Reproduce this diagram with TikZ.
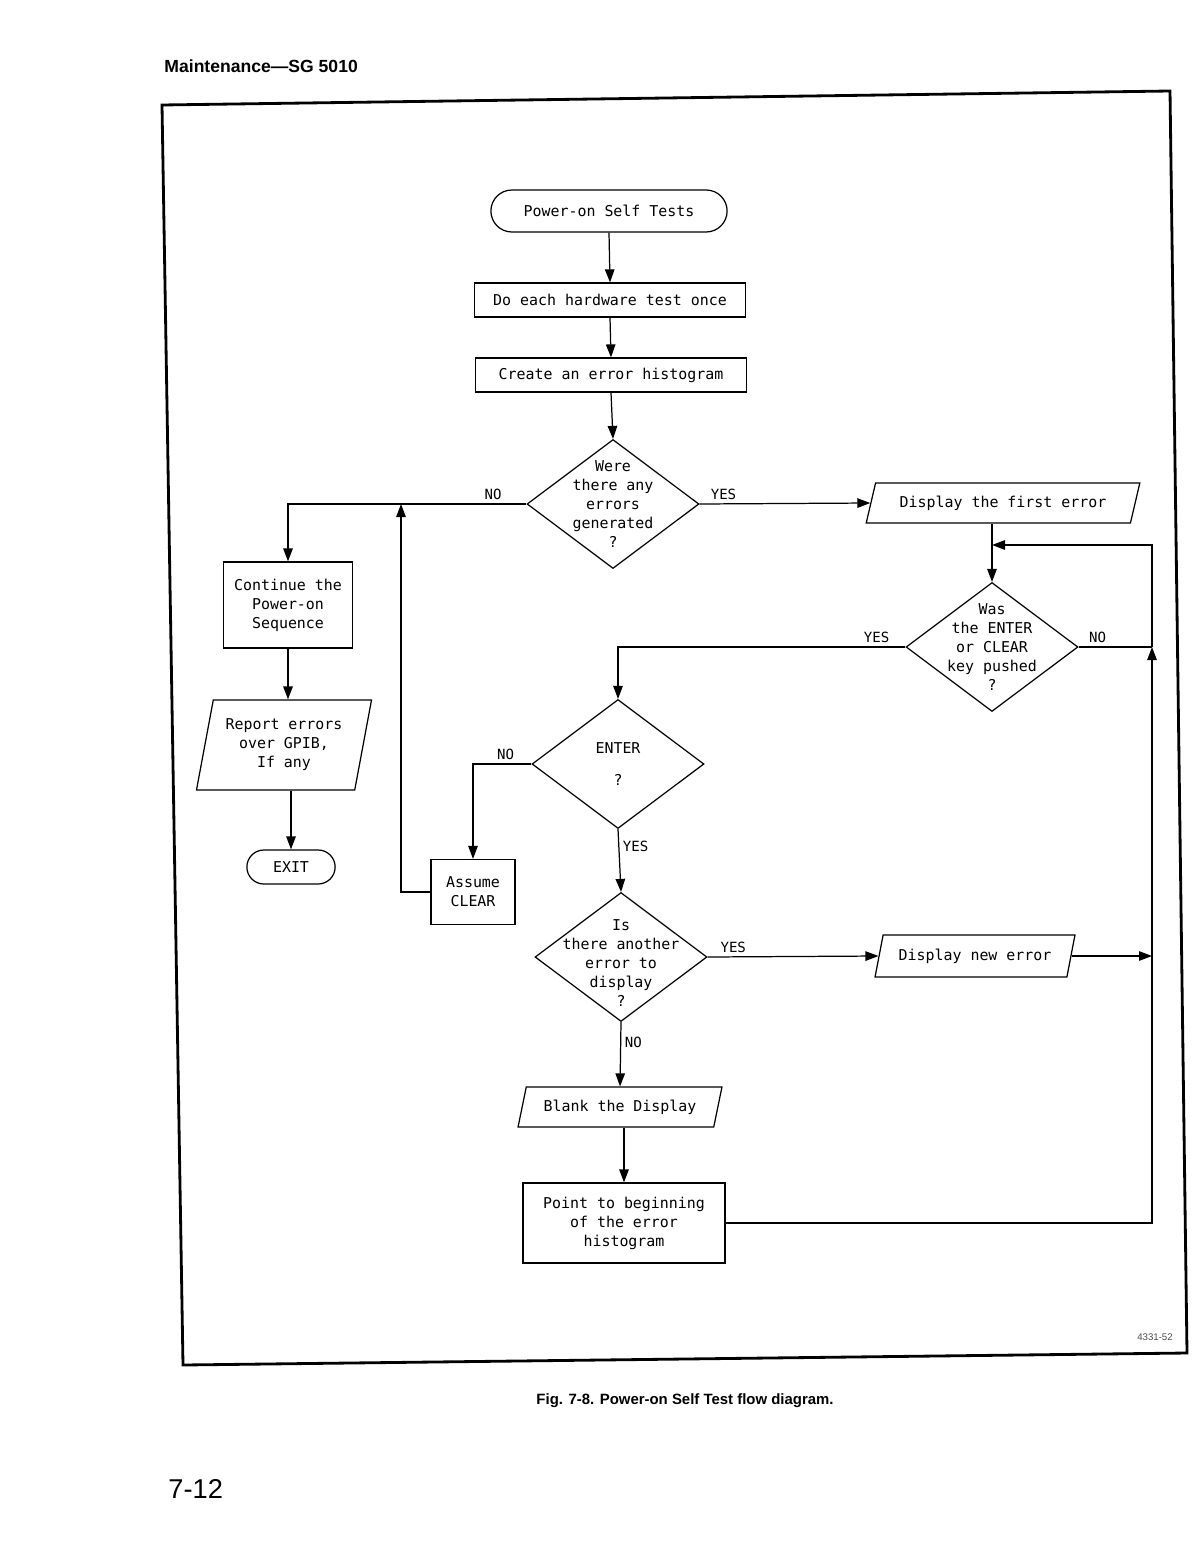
\documentclass[tikz,border=0pt]{standalone}
\usepackage{fontspec}
\setmainfont{Liberation Sans}
\newfontfamily\plotter{DejaVu Sans Mono}
\usetikzlibrary{shapes.geometric,shapes.misc,arrows.meta}

\begin{document}
\begin{tikzpicture}[x=0.02cm,y=-0.02cm,line width=0.7pt,
      >={Triangle[length=2.6mm,width=1.9mm]},
      every node/.style={font=\plotter\fontsize{8.5}{10.8}\selectfont},
      terminal/.style={draw,rounded rectangle,align=center},
      box/.style={draw,rectangle,align=center,inner sep=2pt},
      io/.style={draw,trapezium,trapezium left angle=72,trapezium right angle=108,
         trapezium stretches=true,align=center,inner sep=2pt},
      decision/.style={draw,diamond,minimum width=3.44cm,minimum height=2.58cm,inner sep=0pt},
      lbl/.style={font=\plotter\fontsize{8}{9}\selectfont,inner sep=2pt}]
   \useasboundingbox (0,0) rectangle (1200,1568);

   % page furniture
   \node[anchor=west,font=\fontsize{10}{12}\selectfont\bfseries] (title) at (158,66) {Maintenance—SG 5010};
   \draw [line width=1.6pt] 
      (162,105) -- (1170,91) -- (1187,1353) -- (183,1365) -- cycle;
   \node[font=\fontsize{5.5}{6}\selectfont,text=black!70] (code) at (1155,1337) {4331-52};
   \node[font=\fontsize{8.5}{10}\selectfont\bfseries] (caption) at (685,1401) {Fig. 7-8. Power-on Self Test flow diagram.};
   \node[anchor=west,font=\fontsize{15.5}{18}\selectfont] (page) at (162,1489) {7-12};

   % main column
   \node[terminal,minimum width=4.96cm,minimum height=0.84cm] (start) at (609,211) {Power-on Self Tests};
   \node[box,minimum width=5.42cm,minimum height=0.68cm] (hw) at (610,300) {Do each hardware test once};
   \node[box,minimum width=5.42cm,minimum height=0.68cm] (hist) at (611,375) {Create an error histogram};
   \node[decision,label={[align=center]center:{Were\\there any\\errors\\generated\\?}}] (q1) at (613,504) {};
   \node[io,trapezium left angle=70,trapezium right angle=110,minimum width=5.48cm,minimum height=0.8cm] 
      (first) at (1003,503) {Display the first error};
   \node[decision,label={[align=center]center:{Was\\the ENTER\\or CLEAR\\key pushed\\?}}] (q2) at (992,647) {};
   \node[decision,label={[align=center]center:{ENTER\\[7pt]?}}] (q3) at (618,764) {};
   \node[box,minimum width=1.68cm,minimum height=1.3cm] (assume) at (473,892) {Assume\\CLEAR};
   \node[decision,label={[align=center,yshift=-0.12cm]center:{Is\\there another\\error to\\display\\?}}] (q4) at (621,957) {};
   \node[io,minimum width=4cm,minimum height=0.84cm] (newerr) at (975,956) {Display new error};
   \node[io,minimum width=4.08cm,minimum height=0.8cm] (blank) at (620,1107) {Blank the Display};
   \node[box,minimum width=4.04cm,minimum height=1.6cm] (point) at (624,1223) {Point to beginning\\of the error\\histogram};

   % left column
   \node[box,minimum width=2.58cm,minimum height=1.72cm] (cont) at (288,605) {Continue the\\Power-on\\Sequence};
   \node[io,trapezium left angle=76,trapezium right angle=104,minimum width=3.52cm,minimum height=1.8cm] 
      (report) at (284,745) {Report errors\\over GPIB,\\If any};
   \node[terminal,minimum width=2cm,minimum height=0.68cm] (exit) at (291,867) {EXIT};

   \coordinate (merge) at (401,504);
   \coordinate (nojoin) at (1152,647);
   \coordinate (looptop) at (1152,545);

   % connectors
   \draw [->] (start.south) -- (hw.north);
   \draw [->] (hw.south) -- (hist.north);
   \draw [->] (hist.south) -- (q1.north);
   \draw [->] (q1.west) -| node[lbl,pos=0.07,above] (noA) {NO} (cont.north);
   \draw [->] (q1.east) -- node[lbl,pos=0.14,above] (yesA) {YES} (first.west);
   \draw [->] (q2.north |- first.south) -- (q2.north);
   \draw (q2.east) -- node[lbl,pos=0.26,above] (noB) {NO} (nojoin);
   \draw [->] (nojoin) -- (looptop) -- (looptop -| q2.north);
   \draw [->] (q2.west) -| node[lbl,pos=0.05,above] (yesB) {YES} (q3.north);
   \draw [->] (q3.west) -| node[lbl,pos=0.22,above] (noC) {NO} (assume.north);
   \draw [->] (assume.west) -| (merge);
   \draw [->] (q3.south) -- node[lbl,pos=0.28,right] (yesC) {YES} (q4.north);
   \draw [->] (q4.east) -- node[lbl,pos=0.15,above] (yesD) {YES} (newerr.west);
   \draw [->] (newerr.east) -- (newerr.east -| nojoin);
   \draw [->] (q4.south) -- node[lbl,pos=0.32,right] (noD) {NO} (blank.north);
   \draw [->] (point.north |- blank.south) -- (point.north);
   \draw [->] (point.east) -| (nojoin);
   \draw [->] (cont.south) -- (cont.south |- report.north);
   \draw [->] (exit.north |- report.south) -- (exit.north);
\end{tikzpicture}
\end{document}
